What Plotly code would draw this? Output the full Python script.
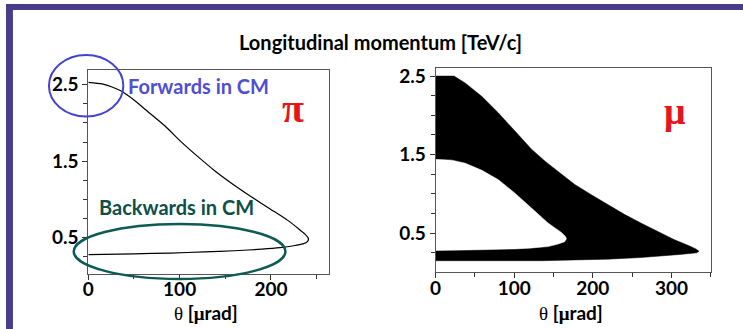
import plotly.graph_objects as go

W, H = 743, 329

# ---- data ----
pi_theta = [0, 15, 26, 37, 51, 65, 84, 102, 120, 138, 156, 178, 200, 218, 230, 237, 241,
            240, 235, 225, 210, 190, 160, 127, 90, 50, 0]
pi_pl = [2.53, 2.51, 2.47, 2.41, 2.29, 2.15, 1.96, 1.75, 1.56, 1.38, 1.22, 1.04, 0.87, 0.73, 0.62, 0.55, 0.49,
         0.45, 0.42, 0.395, 0.37, 0.35, 0.33, 0.315, 0.30, 0.29, 0.28]

mu_outer_theta = [0, 0, 23.6, 38, 59, 80, 101, 122, 140, 156, 177, 198, 219, 240, 261, 282, 303, 320, 331, 335,
                  332, 311, 261, 219, 135, 0]
mu_outer_pl = [0.15, 2.50, 2.50, 2.41, 2.24, 2.03, 1.80, 1.57, 1.41, 1.28, 1.12, 0.99, 0.86, 0.74, 0.63, 0.53, 0.42,
               0.35, 0.30, 0.27, 0.25, 0.23, 0.19, 0.17, 0.15, 0.15]

mu_inner_theta = [0, 21, 38, 59, 80, 101, 122, 143, 160, 165, 166.5, 164, 155, 143, 120, 101, 59, 17, 0]
mu_inner_pl = [1.44, 1.43, 1.39, 1.30, 1.18, 1.01, 0.82, 0.63, 0.51, 0.46, 0.43, 0.39, 0.36, 0.33, 0.31, 0.30,
               0.29, 0.28, 0.28]

x_ticks = [0, 100, 200, 300]
y_ticks = [0.5, 1.5, 2.5]


def px(x):
    return x / W


def py(y):
    return 1 - y / H


fig = go.Figure()
fig.add_trace(go.Scatter(x=pi_theta, y=pi_pl, mode="lines", line=dict(color="black", width=1.2, shape="spline", smoothing=0.6),
                         xaxis="x", yaxis="y", hoverinfo="skip"))
fig.add_trace(go.Scatter(x=mu_outer_theta, y=mu_outer_pl, mode="lines", fill="toself", fillcolor="black",
                         line=dict(color="black", width=0.5), xaxis="x2", yaxis="y2", hoverinfo="skip"))
fig.add_trace(go.Scatter(x=mu_inner_theta, y=mu_inner_pl, mode="lines", fill="toself", fillcolor="white",
                         line=dict(color="white", width=0.5), xaxis="x2", yaxis="y2", hoverinfo="skip"))

tickfont = dict(family="Lato", size=19, color="black", weight="bold")
axcommon = dict(showline=True, linecolor="#555", linewidth=1, mirror=True, ticks="outside", ticklen=5,
                tickcolor="#333", showgrid=False, zeroline=False, tickfont=tickfont, fixedrange=True)

fig.update_layout(
    width=W, height=H, margin=dict(l=0, r=0, t=0, b=0),
    paper_bgcolor="white", plot_bgcolor="white", showlegend=False,
    xaxis=dict(domain=[px(83), px(326)], range=[0, 264], tickvals=x_ticks[:3], ticklabelstandoff=-6,
               minor=dict(ticks="outside", dtick=50, tick0=0, ticklen=4, tickcolor="#333"), anchor="y", **axcommon),
    yaxis=dict(domain=[py(273), py(67)], range=[0.03, 2.69], tickvals=y_ticks,
               minor=dict(ticks="outside", dtick=0.25, tick0=0, ticklen=4, tickcolor="#333"), anchor="x", **axcommon),
    xaxis2=dict(domain=[px(433), px(711)], range=[0, 350.5], tickvals=x_ticks, ticklabelstandoff=-6,
                minor=dict(ticks="outside", dtick=50, tick0=0, ticklen=4, tickcolor="#333"), anchor="y2", **axcommon),
    yaxis2=dict(domain=[py(271), py(65)], range=[0.01, 2.60], tickvals=y_ticks,
                minor=dict(ticks="outside", dtick=0.25, tick0=0, ticklen=4, tickcolor="#333"), anchor="x2", **axcommon),
)

purple = "#483D8B"
shapes = [
    dict(type="rect", xref="paper", yref="paper", x0=0, x1=px(7), y0=0, y1=1, fillcolor=purple, line=dict(width=0), layer="above"),
    dict(type="rect", xref="paper", yref="paper", x0=0, x1=1, y0=py(6), y1=1, fillcolor=purple, line=dict(width=0), layer="above"),
    dict(type="circle", xref="paper", yref="paper", x0=px(43.3), x1=px(118.3), y0=py(114), y1=py(51.7),
         line=dict(color="#4343d2", width=2), layer="above"),
    dict(type="circle", xref="paper", yref="paper", x0=px(68.3), x1=px(281.7), y0=py(278.3), y1=py(222.7),
         line=dict(color="#0f5a55", width=2.5), layer="above"),
]
fig.update_layout(shapes=shapes)

bold = dict(family="Lato", weight="bold")
theta_lbl = ('<span style="font-family:Liberation Serif;font-weight:normal">θ</span> '
             '[<span style="font-family:Liberation Serif">μ</span>rad]')
ann = [
    dict(text="Longitudinal momentum [TeV/c]", x=px(378), y=py(38), font=dict(size=20, color="black", **bold)),
    dict(text="Forwards in CM", x=px(194), y=py(83), font=dict(size=20, color="#4f4fd0", **bold)),
    dict(text="Backwards in CM", x=px(172), y=py(205), font=dict(size=20, color="#0d4f4a", **bold)),
    dict(text="π", x=px(289), y=py(106), font=dict(size=40, color="#e8141b", family="Liberation Serif", weight="bold")),
    dict(text="μ", x=px(674), y=py(108), font=dict(size=38, color="#e8141b", family="Liberation Serif", weight="bold")),
    dict(text=theta_lbl, x=px(202), y=py(312), font=dict(size=19, color="black", **bold)),
    dict(text=theta_lbl, x=px(570), y=py(312), font=dict(size=19, color="black", **bold)),
]
for a in ann:
    a.update(xref="paper", yref="paper", showarrow=False, xanchor="center", yanchor="middle")
fig.update_layout(annotations=ann)

fig.write_html("out.html")
